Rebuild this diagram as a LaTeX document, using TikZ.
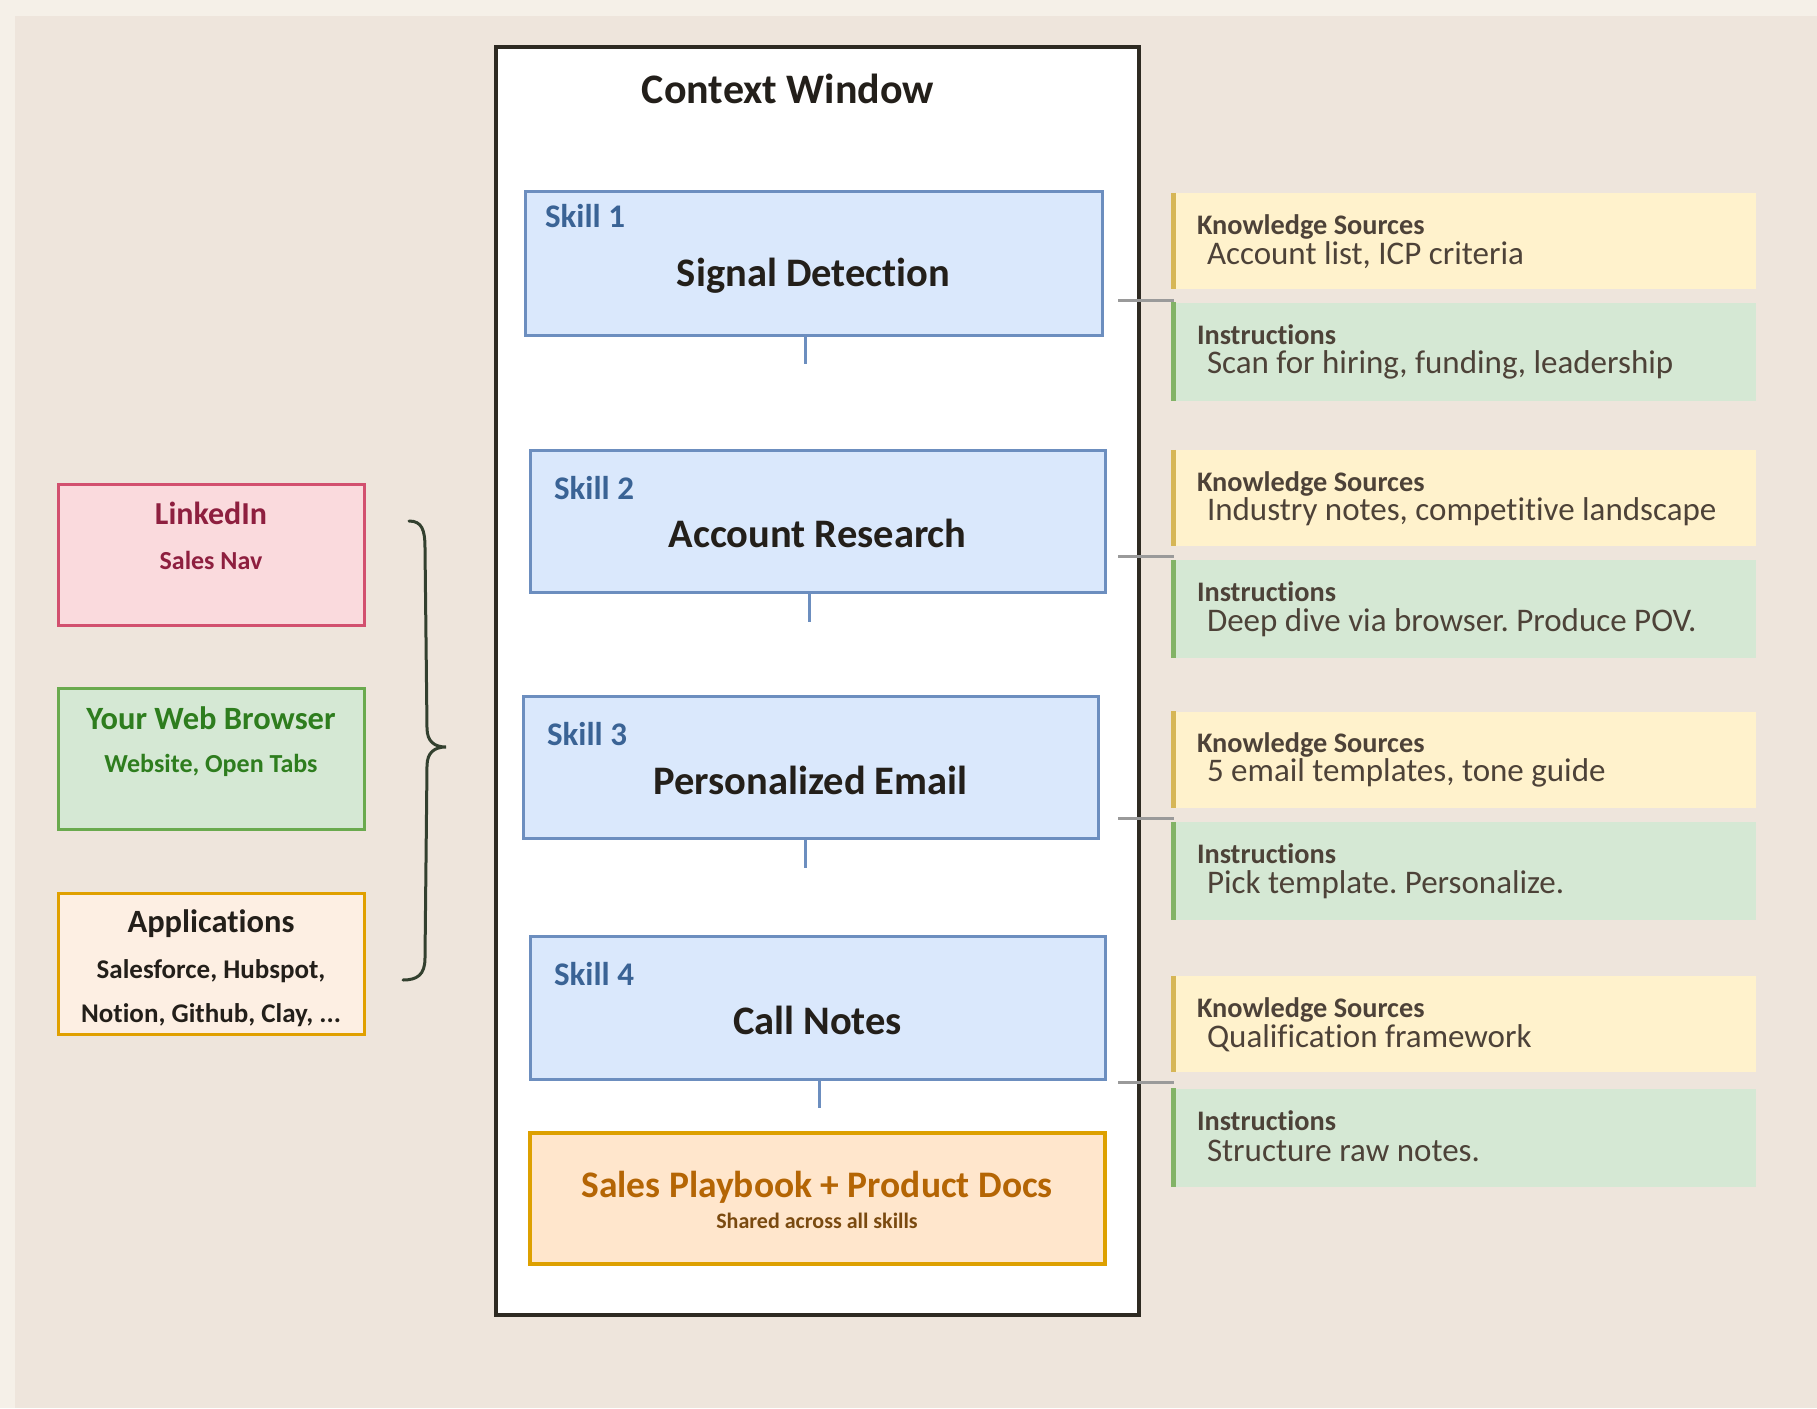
\documentclass[tikz,border=0pt]{standalone}
\usepackage{fontspec}
\setmainfont{Carlito}[Ligatures=NoCommon]
\frenchspacing
\usepackage{tikz}
\usetikzlibrary{positioning,calc}

\definecolor{outerbg}{HTML}{F5F0E8}
\definecolor{innerbg}{HTML}{EEE5DC}
\definecolor{ctxdraw}{HTML}{2E2A22}
\definecolor{skillfill}{HTML}{DAE8FC}
\definecolor{skilldraw}{HTML}{6C8EBF}
\definecolor{skilltext}{HTML}{3A6395}
\definecolor{darktext}{HTML}{231F1A}
\definecolor{pbfill}{HTML}{FFE6CC}
\definecolor{pbdraw}{HTML}{DDA000}
\definecolor{pbtext}{HTML}{B46504}
\definecolor{pbsub}{HTML}{7A4A10}
\definecolor{kfill}{HTML}{FFF2CC}
\definecolor{kbar}{HTML}{D6B656}
\definecolor{ifill}{HTML}{D5E8D4}
\definecolor{ibar}{HTML}{82B366}
\definecolor{paneltext}{HTML}{4D4238}
\definecolor{tickgray}{HTML}{9A9A9A}
\definecolor{lifill}{HTML}{FADADD}
\definecolor{lidraw}{HTML}{D2506F}
\definecolor{litext}{HTML}{8E1F3F}
\definecolor{wbfill}{HTML}{D5E8D4}
\definecolor{wbdraw}{HTML}{6AAA4E}
\definecolor{wbtext}{HTML}{2E7D1E}
\definecolor{apfill}{HTML}{FDEFE3}
\definecolor{apdraw}{HTML}{E0A000}
\definecolor{bracecol}{HTML}{33402F}

\tikzset{
  fnt/.style={font=\fontsize{#1}{#1}\selectfont},
  bfnt/.style={font=\fontsize{#1}{#1}\selectfont\bfseries},
  ctxbox/.style={draw=ctxdraw, line width=4pt, fill=white, minimum width=643, minimum height=1268},
  skillbox/.style={draw=skilldraw, line width=3pt, fill=skillfill, minimum width=575, minimum height=142},
  skilllbl/.style={anchor=west, text=skilltext, bfnt=33},
  skillttl/.style={text=darktext, bfnt=40.5},
  stub/.style={draw=skilldraw, line width=3pt},
  panel/.style={minimum width=582, inner sep=0pt},
  kbox/.style={panel, fill=kfill, minimum height=96},
  ibox/.style={panel, fill=ifill, minimum height=98},
  phead/.style={anchor=west, inner sep=0pt, text=paneltext, bfnt=28.3},
  pbody/.style={anchor=west, inner sep=0pt, text=paneltext, fnt=33},
  tick/.style={draw=tickgray, line width=3pt},
  srcbox/.style={line width=3pt, minimum width=306, minimum height=141}
}

\begin{document}
\begin{tikzpicture}[x=1pt,y=-1pt]
  \useasboundingbox (0,0) rectangle (1817,1408);
  \fill[outerbg] (0,0) rectangle (1817,1408);
  \fill[innerbg] (15,16) rectangle (1817,1408);

  % context window
  \node[ctxbox] (ctx) at (817.5,681) {};
  \node[text=darktext, bfnt=42] (ctx_title) at (788,89) {Context Window};

  % skills
  \node[skillbox, minimum width=577, minimum height=144] (skill_1) at (813.5,263) {};
  \node[skillttl] at ($(skill_1.center)+(0,13)$) {Signal Detection};
  \node[skilllbl] at ($(skill_1.north west)+(18,27)$) {Skill 1};

  \node[skillbox] (skill_2) at (817.5,521) {};
  \node[skillttl] at ($(skill_2.center)+(0,12)$) {Account Research};
  \node[skilllbl] at ($(skill_2.north west)+(22,40)$) {Skill 2};

  \node[skillbox] (skill_3) at (810.5,767) {};
  \node[skillttl] at ($(skill_3.center)+(0,13)$) {Personalized Email};
  \node[skilllbl] at ($(skill_3.north west)+(22,40)$) {Skill 3};

  \node[skillbox, minimum height=143] (skill_4) at (817.5,1007.5) {};
  \node[skillttl] at ($(skill_4.center)+(0,12.5)$) {Call Notes};
  \node[skilllbl] at ($(skill_4.north west)+(22,40)$) {Skill 4};

  \coordinate (stub_1) at (805,364);
  \coordinate (stub_2) at (809,622);
  \coordinate (stub_3) at (805,868);
  \coordinate (stub_4) at (819,1108);
  \draw[stub] (skill_1.south -| stub_1) -- (stub_1);
  \draw[stub] (skill_2.south -| stub_2) -- (stub_2);
  \draw[stub] (skill_3.south -| stub_3) -- (stub_3);
  \draw[stub] (skill_4.south -| stub_4) -- (stub_4);

  % shared docs
  \node[draw=pbdraw, line width=3.5pt, fill=pbfill, minimum width=575, minimum height=131] (playbook) at (817.5,1198.5) {};
  \node[text=pbtext, bfnt=37.5] at (817,1187) {Sales Playbook + Product Docs};
  \node[text=pbsub, bfnt=22] at (817,1221) {Shared across all skills};

  % knowledge + instructions panels
  \node[kbox] (know_1) at (1465,241) {};
  \node[ibox] (inst_1) at (1465,351.5) {};
  \node[kbox] (know_2) at (1465,498) {};
  \node[ibox] (inst_2) at (1465,609) {};
  \node[kbox] (know_3) at (1465,759.5) {};
  \node[ibox] (inst_3) at (1465,871) {};
  \node[kbox] (know_4) at (1465,1024) {};
  \node[ibox] (inst_4) at (1465,1137.5) {};

  \draw[kbar, line width=5pt] (know_1.north west) -- (know_1.south west);
  \draw[kbar, line width=5pt] (know_2.north west) -- (know_2.south west);
  \draw[kbar, line width=5pt] (know_3.north west) -- (know_3.south west);
  \draw[kbar, line width=5pt] (know_4.north west) -- (know_4.south west);
  \draw[ibar, line width=5pt] (inst_1.north west) -- (inst_1.south west);
  \draw[ibar, line width=5pt] (inst_2.north west) -- (inst_2.south west);
  \draw[ibar, line width=5pt] (inst_3.north west) -- (inst_3.south west);
  \draw[ibar, line width=5pt] (inst_4.north west) -- (inst_4.south west);

  \node[phead] at ($(know_1.north west)+(23,34)$) {Knowledge Sources};
  \node[pbody] at ($(know_1.north west)+(33,62)$) {Account list, ICP criteria};
  \node[phead] at ($(inst_1.north west)+(23,32)$) {Instructions};
  \node[pbody] at ($(inst_1.north west)+(33,63)$) {Scan for hiring, funding, leadership};

  \node[phead] at ($(know_2.north west)+(23,34)$) {Knowledge Sources};
  \node[pbody] at ($(know_2.north west)+(33,62)$) {Industry notes, competitive landscape};
  \node[phead] at ($(inst_2.north west)+(23,32)$) {Instructions};
  \node[pbody] at ($(inst_2.north west)+(33,63)$) {Deep dive via browser. Produce POV.};

  \node[phead] at ($(know_3.north west)+(23,34)$) {Knowledge Sources};
  \node[pbody] at ($(know_3.north west)+(33,62)$) {5 email templates, tone guide};
  \node[phead] at ($(inst_3.north west)+(23,32)$) {Instructions};
  \node[pbody] at ($(inst_3.north west)+(33,63)$) {Pick template. Personalize.};

  \node[phead] at ($(know_4.north west)+(23,34)$) {Knowledge Sources};
  \node[pbody] at ($(know_4.north west)+(33,62)$) {Qualification framework};
  \node[phead] at ($(inst_4.north west)+(23,32)$) {Instructions};
  \node[pbody] at ($(inst_4.north west)+(33,63)$) {Structure raw notes.};

  \coordinate (tick_1) at (1118,300);
  \coordinate (tick_2) at (1118,556);
  \coordinate (tick_3) at (1118,818);
  \coordinate (tick_4) at (1118,1082);
  \draw[tick] (tick_1) -- (tick_1 -| know_1.west);
  \draw[tick] (tick_2) -- (tick_2 -| know_2.west);
  \draw[tick] (tick_3) -- (tick_3 -| know_3.west);
  \draw[tick] (tick_4) -- (tick_4 -| know_4.west);

  % sources on the left
  \node[srcbox, draw=lidraw, fill=lifill] (linkedin) at (211,554.5) {};
  \node[text=litext, bfnt=32] at ($(linkedin.center)+(0,-41.5)$) {LinkedIn};
  \node[text=litext, bfnt=26] at ($(linkedin.center)+(0,5.5)$) {Sales Nav};

  \node[srcbox, draw=wbdraw, fill=wbfill] (browser) at (211,758.5) {};
  \node[text=wbtext, bfnt=32.5] at ($(browser.center)+(0,-40.5)$) {Your Web Browser};
  \node[text=wbtext, bfnt=26] at ($(browser.center)+(0,6.5)$) {Website, Open Tabs};

  \node[srcbox, draw=apdraw, fill=apfill] (apps) at (211,963.5) {};
  \node[text=darktext, bfnt=32.5] at ($(apps.center)+(0,-39.5)$) {Applications};
  \node[text=darktext, bfnt=27] at ($(apps.center)+(0,7.5)$) {Salesforce, Hubspot,};
  \node[text=darktext, bfnt=27] at ($(apps.center)+(0,51.5)$) {Notion, Github, Clay, ...};

  % brace
  \coordinate (brace_top) at (409,521);
  \coordinate (brace_tip) at (446,747);
  \coordinate (brace_bot) at (403,980);
  \draw[bracecol, line width=3pt, line cap=round]
    (brace_top) .. controls (422,521) and (425,530) .. (425,548)
    -- (427,728) .. controls (427,742) and (435,747) .. (brace_tip)
    .. controls (435,747) and (427,752) .. (427,766)
    -- (425,958) .. controls (425,975) and (417,980) .. (brace_bot);
\end{tikzpicture}
\end{document}
